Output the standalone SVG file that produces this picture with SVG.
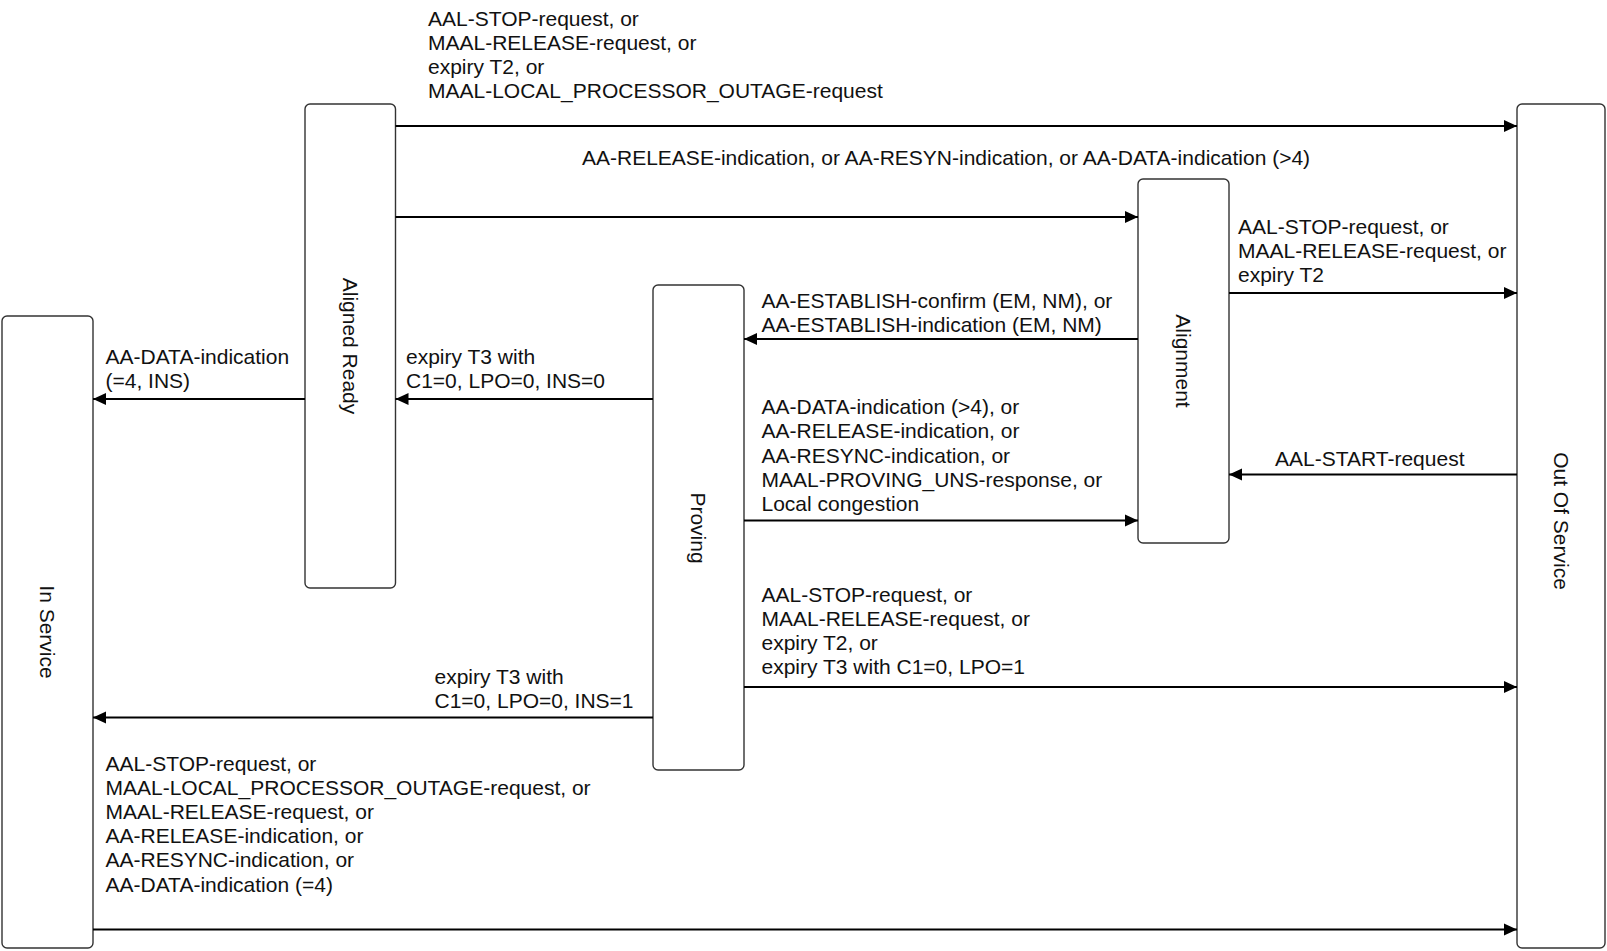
<svg xmlns="http://www.w3.org/2000/svg" width="1607" height="951" viewBox="0 0 1607 951">
<style>
.node rect{fill:#fff;stroke:#333;stroke-width:1.4}
text{font-family:"Liberation Sans",Arial,sans-serif;font-size:21px;fill:#111}
.conn line{stroke:#000;stroke-width:2;marker-end:url(#ah)}
</style>
<defs>
<marker id="ah" markerUnits="userSpaceOnUse" markerWidth="14" markerHeight="14" refX="13" refY="6.5" orient="auto">
<path d="M0,0.5 L13,6.5 L0,12.5 z" fill="#000"/>
</marker>
</defs>
<rect width="1607" height="951" fill="#fff"/>
<g id="in-service" class="node"><rect x="2" y="316" width="91" height="632" rx="5"/><text transform="translate(47.5,632) rotate(90)" text-anchor="middle" dominant-baseline="central">In Service</text></g>
<g id="out-of-service" class="node"><rect x="1517" y="104" width="88" height="844" rx="5"/><text transform="translate(1561,521) rotate(90)" text-anchor="middle" dominant-baseline="central">Out Of Service</text></g>
<g id="aligned-ready" class="node"><rect x="305" y="104" width="90.5" height="484" rx="5"/><text transform="translate(350,346) rotate(90)" text-anchor="middle" dominant-baseline="central">Aligned Ready</text></g>
<g id="proving" class="node"><rect x="653" y="285" width="91" height="485" rx="5"/><text transform="translate(698.5,528) rotate(90)" text-anchor="middle" dominant-baseline="central">Proving</text></g>
<g id="alignment" class="node"><rect x="1138" y="179" width="91" height="364" rx="5"/><text transform="translate(1183.5,361) rotate(90)" text-anchor="middle" dominant-baseline="central">Alignment</text></g>
<g id="connectors" class="conn">
<line x1="395.5" y1="126" x2="1517" y2="126"/>
<line x1="395.5" y1="217" x2="1138" y2="217"/>
<line x1="1229" y1="293" x2="1517" y2="293"/>
<line x1="1138" y1="339" x2="744" y2="339"/>
<line x1="653" y1="399" x2="395.5" y2="399"/>
<line x1="305" y1="399" x2="93" y2="399"/>
<line x1="1517" y1="474.5" x2="1229" y2="474.5"/>
<line x1="744" y1="520.5" x2="1138" y2="520.5"/>
<line x1="744" y1="687" x2="1517" y2="687"/>
<line x1="653" y1="717.5" x2="93" y2="717.5"/>
<line x1="93" y1="929.5" x2="1517" y2="929.5"/>
</g>
<g id="labels">
<text x="428" y="25.5">AAL-STOP-request, or<tspan x="428" dy="24.3">MAAL-RELEASE-request, or</tspan><tspan x="428" dy="24.3">expiry T2, or</tspan><tspan x="428" dy="24.3">MAAL-LOCAL_PROCESSOR_OUTAGE-request</tspan></text>
<text x="582" y="165">AA-RELEASE-indication, or AA-RESYN-indication, or AA-DATA-indication (&gt;4)</text>
<text x="1238" y="233.5">AAL-STOP-request, or<tspan x="1238" dy="24.3">MAAL-RELEASE-request, or</tspan><tspan x="1238" dy="24.3">expiry T2</tspan></text>
<text x="761.5" y="307.5">AA-ESTABLISH-confirm (EM, NM), or<tspan x="761.5" dy="24">AA-ESTABLISH-indication (EM, NM)</tspan></text>
<text x="105.5" y="364">AA-DATA-indication<tspan x="105.5" dy="24">(=4, INS)</tspan></text>
<text x="406" y="364">expiry T3 with<tspan x="406" dy="24">C1=0, LPO=0, INS=0</tspan></text>
<text x="761.5" y="414">AA-DATA-indication (&gt;4), or<tspan x="761.5" dy="24.3">AA-RELEASE-indication, or</tspan><tspan x="761.5" dy="24.3">AA-RESYNC-indication, or</tspan><tspan x="761.5" dy="24.3">MAAL-PROVING_UNS-response, or</tspan><tspan x="761.5" dy="24.3">Local congestion</tspan></text>
<text x="1275" y="466">AAL-START-request</text>
<text x="761.5" y="601.5">AAL-STOP-request, or<tspan x="761.5" dy="24.3">MAAL-RELEASE-request, or</tspan><tspan x="761.5" dy="24.3">expiry T2, or</tspan><tspan x="761.5" dy="24.3">expiry T3 with C1=0, LPO=1</tspan></text>
<text x="434.5" y="683.5">expiry T3 with<tspan x="434.5" dy="24.3">C1=0, LPO=0, INS=1</tspan></text>
<text x="105.5" y="770.5">AAL-STOP-request, or<tspan x="105.5" dy="24.2">MAAL-LOCAL_PROCESSOR_OUTAGE-request, or</tspan><tspan x="105.5" dy="24.2">MAAL-RELEASE-request, or</tspan><tspan x="105.5" dy="24.2">AA-RELEASE-indication, or</tspan><tspan x="105.5" dy="24.2">AA-RESYNC-indication, or</tspan><tspan x="105.5" dy="24.2">AA-DATA-indication (=4)</tspan></text>
</g>
</svg>
